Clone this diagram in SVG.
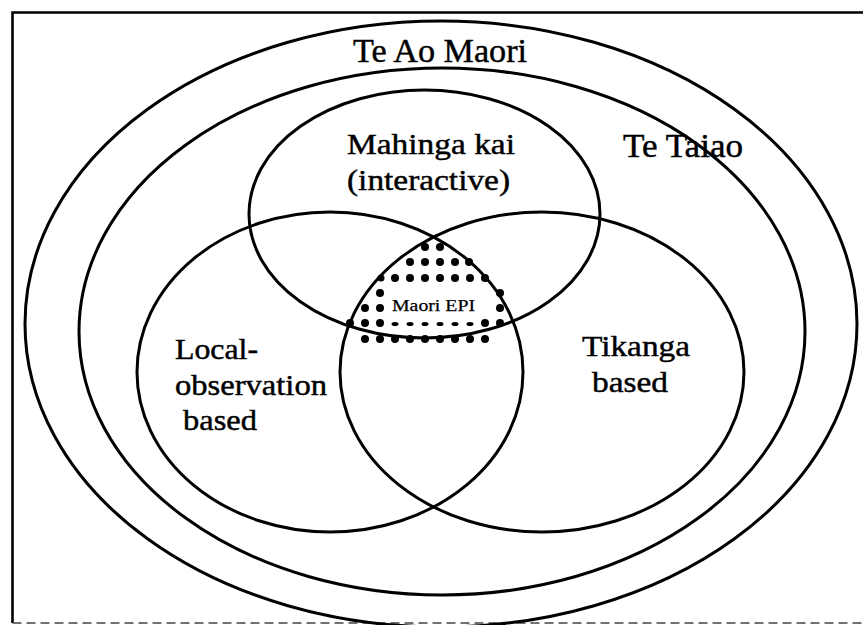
<svg xmlns="http://www.w3.org/2000/svg" width="863" height="625" viewBox="0 0 863 625">
  <style>
    .ring { fill: none; stroke: #000; stroke-width: 3; }
    .frame { fill: none; stroke: #000; stroke-width: 2.6; }
    .frame-dash { fill: none; stroke: #444; stroke-width: 1.6; stroke-dasharray: 9 5; }
    text { font-family: "Liberation Serif", "Times New Roman", serif; fill: #000; stroke: #000; stroke-width: 0.45; }
    .big { font-size: 34px; }
    .lbl { font-size: 30px; }
    .small { font-size: 16px; stroke-width: 0.25; }
    .dot { fill: #000; }
  </style>
  <rect width="863" height="625" fill="#fff"/>

  <!-- outer frame: solid top and left, dashed bottom -->
  <g id="frame">
    <path class="frame" d="M12.5 623 V12.5 H863"/>
    <path class="frame-dash" d="M12.5 623 H863"/>
  </g>

  <!-- Te Ao Maori: outermost ring -->
  <g id="te-ao-maori">
    <ellipse class="ring" cx="441" cy="324" rx="416" ry="303"/>
    <text class="big" x="353" y="62" textLength="174" lengthAdjust="spacingAndGlyphs">Te Ao Maori</text>
  </g>

  <!-- Te Taiao: second ring -->
  <g id="te-taiao">
    <ellipse class="ring" cx="442" cy="331.5" rx="363" ry="263.5"/>
    <text class="big" x="623" y="157" textLength="120" lengthAdjust="spacingAndGlyphs">Te Taiao</text>
  </g>

  <!-- Mahinga kai (upper set) -->
  <g id="mahinga-kai">
    <ellipse class="ring" cx="424.5" cy="214" rx="175.5" ry="124"/>
    <text class="lbl" x="347" y="154" textLength="168" lengthAdjust="spacingAndGlyphs">Mahinga kai</text>
    <text class="lbl" x="347" y="190" textLength="163" lengthAdjust="spacingAndGlyphs">(interactive)</text>
  </g>

  <!-- Local-observation based (lower-left set) -->
  <g id="local-observation">
    <ellipse class="ring" cx="330" cy="372" rx="193" ry="160"/>
    <text class="lbl" x="175" y="359" textLength="83" lengthAdjust="spacingAndGlyphs">Local-</text>
    <text class="lbl" x="175" y="395" textLength="152" lengthAdjust="spacingAndGlyphs">observation</text>
    <text class="lbl" x="183" y="430" textLength="74" lengthAdjust="spacingAndGlyphs">based</text>
  </g>

  <!-- Tikanga based (lower-right set) -->
  <g id="tikanga">
    <ellipse class="ring" cx="542" cy="372" rx="202" ry="160"/>
    <text class="lbl" x="582" y="356" textLength="108" lengthAdjust="spacingAndGlyphs">Tikanga</text>
    <text class="lbl" x="592" y="392" textLength="76" lengthAdjust="spacingAndGlyphs">based</text>
  </g>

  <!-- Maori EPI: stippled triple overlap -->
  <g id="maori-epi">
    <g class="dots">
      <circle class="dot" cx="425" cy="247" r="4"/>
      <circle class="dot" cx="440" cy="247" r="4"/>

      <circle class="dot" cx="410" cy="262" r="4"/>
      <circle class="dot" cx="425" cy="262" r="4"/>
      <circle class="dot" cx="440" cy="262" r="4"/>
      <circle class="dot" cx="455" cy="262" r="4"/>
      <circle class="dot" cx="469" cy="262" r="4"/>

      <circle class="dot" cx="381" cy="278" r="3.5"/>
      <circle class="dot" cx="395" cy="278" r="4"/>
      <circle class="dot" cx="410" cy="278" r="4"/>
      <circle class="dot" cx="425" cy="278" r="4"/>
      <circle class="dot" cx="440" cy="278" r="4"/>
      <circle class="dot" cx="455" cy="278" r="4"/>
      <circle class="dot" cx="470" cy="278" r="4"/>
      <circle class="dot" cx="485" cy="278" r="4"/>

      <circle class="dot" cx="380" cy="293" r="4"/>
      <circle class="dot" cx="500" cy="293" r="4"/>

      <circle class="dot" cx="365" cy="308" r="4"/>
      <circle class="dot" cx="380" cy="308" r="4"/>
      <circle class="dot" cx="500" cy="308" r="4"/>

      <circle class="dot" cx="350" cy="323" r="4"/>
      <circle class="dot" cx="365" cy="323" r="4"/>
      <circle class="dot" cx="380" cy="323" r="4"/>
      <ellipse class="dot" cx="395" cy="324" rx="3.5" ry="2"/>
      <ellipse class="dot" cx="410" cy="324" rx="3.5" ry="2"/>
      <ellipse class="dot" cx="425" cy="324" rx="3.5" ry="2"/>
      <ellipse class="dot" cx="440" cy="324" rx="3.5" ry="2"/>
      <ellipse class="dot" cx="455" cy="324" rx="3.5" ry="2"/>
      <ellipse class="dot" cx="470" cy="324" rx="3.5" ry="2"/>
      <circle class="dot" cx="485" cy="323" r="4"/>
      <circle class="dot" cx="500" cy="323" r="4"/>

      <circle class="dot" cx="365" cy="339" r="4"/>
      <circle class="dot" cx="380" cy="339" r="4"/>
      <circle class="dot" cx="395" cy="339" r="4"/>
      <circle class="dot" cx="410" cy="339" r="4"/>
      <circle class="dot" cx="425" cy="339" r="4"/>
      <circle class="dot" cx="440" cy="339" r="4"/>
      <circle class="dot" cx="455" cy="339" r="4"/>
      <circle class="dot" cx="470" cy="339" r="4"/>
      <circle class="dot" cx="485" cy="339" r="4"/>
    </g>
    <text class="small" x="392" y="311" textLength="83" lengthAdjust="spacingAndGlyphs">Maori EPI</text>
  </g>
</svg>
